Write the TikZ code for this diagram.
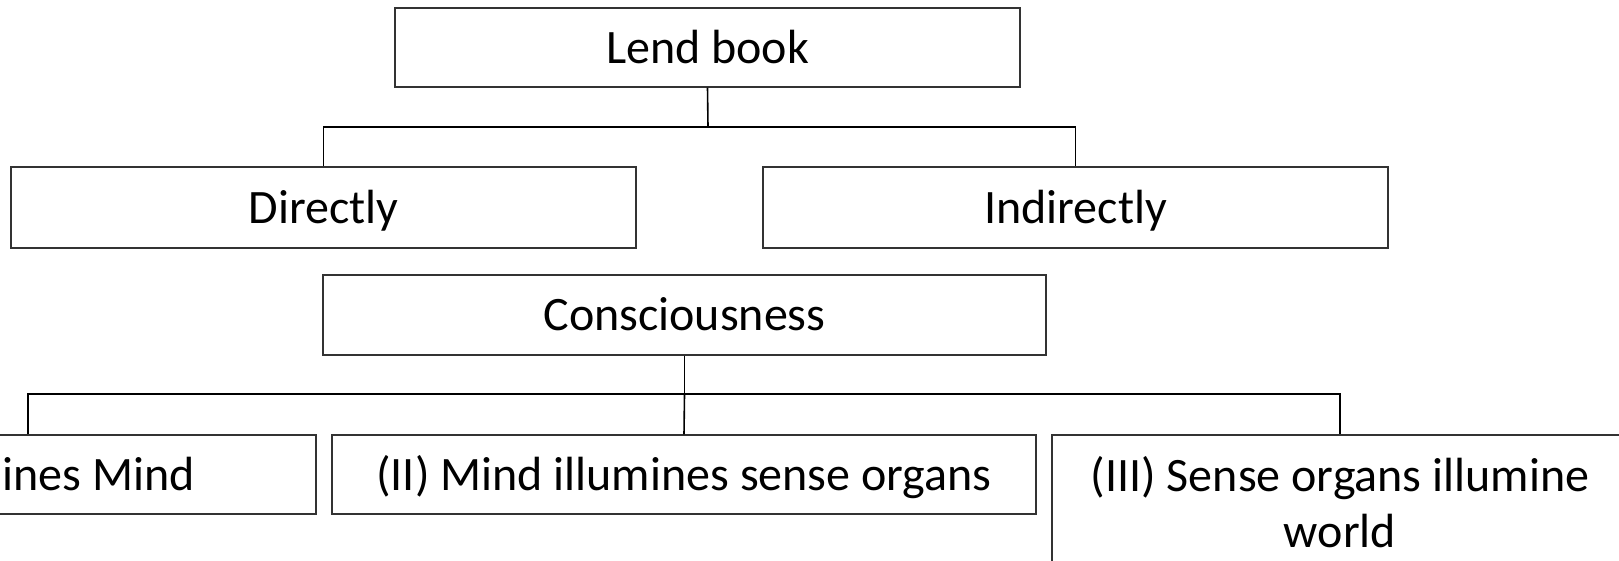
\documentclass[tikz,border=0pt]{standalone}
\usepackage{fontspec}
\setmainfont{Carlito}
\begin{document}
\begin{tikzpicture}[x=1pt,y=-1pt,
  box/.style={draw=black!80, line width=1.3pt, rectangle, inner sep=0pt,
    font=\fontsize{48}{56}\selectfont, text=black, align=center},
  oneline/.style={box, text height=38pt, text depth=7pt},
  link/.style={draw=black, line width=1.6pt}]
  \useasboundingbox (0,0) rectangle (1619,560);
  \clip (0,0) rectangle (1619,560);

  % first tree
  \node[oneline, minimum width=625pt, minimum height=79pt] (lend) at (707.5,47.5) {Lend book};
  \node[oneline, minimum width=625pt, minimum height=81pt] (direct) at (323.5,207.5) {Directly};
  \node[oneline, minimum width=625pt, minimum height=81pt] (indirect) at (1075.5,207.5) {Indirectly};
  \coordinate (j1) at (708,127);
  \draw[link] (lend.south) -- (j1);
  \draw[link] (direct.north) |- (j1) -| (indirect.north);

  % second tree
  \node[oneline, minimum width=723pt, minimum height=80pt] (cons) at (684.5,315) {Consciousness};
  \node[oneline, minimum width=876pt, minimum height=79pt] (b1) at (-122,474.5) {(I) Consciousness illumines Mind};
  \node[oneline, minimum width=704pt, minimum height=79pt] (b2) at (684,474.5) {(II) Mind illumines sense organs};
  \node[box, minimum width=576pt, minimum height=134pt] (b3) at (1340,502) {(III) Sense organs illumine\\world};
  \coordinate (j2) at (684.5,394);
  \draw[link] (cons.south) -- (j2);
  \draw[link] ([xshift=150pt]b1.north) |- (j2) -| (b3.north);
  \draw[link] (j2) -- (b2.north);
\end{tikzpicture}
\end{document}
